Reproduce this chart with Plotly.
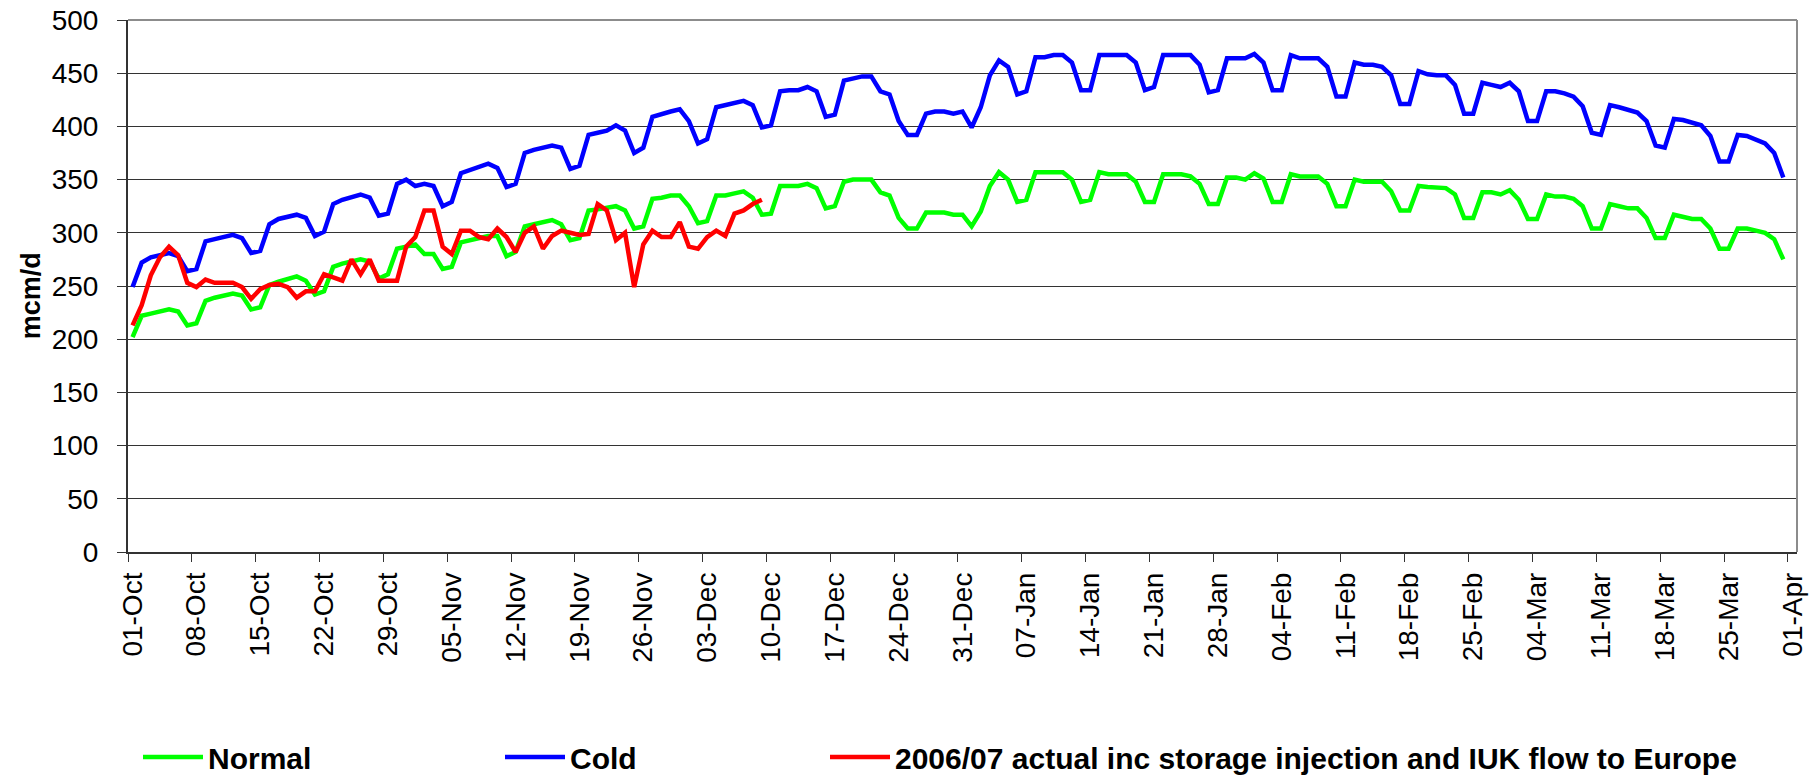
import pandas as pd
import plotly.graph_objects as go

# ---------------- DATA ----------------
start_date = "2006-10-01"

normal = [202, 222, 224, 226, 228, 226, 213, 215, 236, 239, 241, 243, 241, 228, 230,
          251, 254, 257, 259, 255, 242, 245, 268, 271, 273, 275, 273, 257, 261, 285,
          287, 289, 280, 280, 266, 268, 291, 293, 295, 297, 297, 278, 282, 306, 308,
          310, 312, 308, 293, 295, 321, 322, 323, 325, 321, 304, 306, 332, 333, 335,
          335, 325, 309, 311, 335, 335, 337, 339, 333, 317, 318, 344, 344, 344, 346,
          342, 323, 325, 348, 350, 350, 350, 338, 335, 314, 304, 304, 319, 319, 319,
          317, 317, 306, 320, 344, 357, 350, 329, 331, 357, 357, 357, 357, 350, 329,
          331, 357, 355, 355, 355, 348, 329, 329, 355, 355, 355, 353, 346, 327, 327,
          352, 352, 350, 356, 351, 329, 329, 355, 353, 353, 353, 346, 325, 325, 350,
          348, 348, 348, 339, 321, 321, 344, 343, 342, 342, 336, 314, 314, 338, 338,
          336, 340, 331, 313, 313, 336, 334, 334, 332, 325, 304, 304, 327, 325, 323,
          323, 314, 295, 295, 317, 315, 313, 313, 304, 285, 285, 304, 304, 302, 300,
          294, 275]

cold = [249, 272, 277, 279, 281, 278, 264, 266, 292, 294, 296, 298, 295, 281, 283,
        308, 313, 315, 317, 314, 297, 301, 327, 331, 334, 336, 333, 316, 318, 346,
        350, 344, 346, 344, 325, 329, 356, 359, 363, 365, 361, 343, 346, 375, 378,
        380, 382, 380, 360, 363, 392, 394, 396, 401, 396, 375, 380, 409, 412, 414,
        416, 405, 384, 388, 418, 420, 422, 424, 420, 399, 401, 433, 434, 434, 437,
        433, 409, 411, 443, 445, 447, 447, 433, 430, 405, 392, 392, 412, 414, 414,
        412, 414, 399, 418, 448, 462, 456, 430, 433, 465, 465, 467, 467, 460, 434,
        434, 467, 467, 467, 467, 460, 434, 437, 467, 467, 467, 467, 458, 432, 434,
        464, 464, 464, 468, 460, 434, 434, 467, 464, 464, 464, 456, 428, 428, 460,
        458, 458, 456, 448, 421, 421, 452, 449, 448, 448, 439, 412, 412, 441, 439,
        437, 441, 433, 405, 405, 433, 433, 431, 428, 419, 394, 392, 420, 418, 416,
        413, 405, 382, 380, 407, 406, 404, 401, 391, 367, 367, 392, 391, 387, 384,
        375, 352]

actual = [213, 232, 260, 277, 287, 279, 253, 249, 256, 253, 253, 253, 249, 238, 247,
          251, 252, 249, 239, 245, 245, 261, 258, 255, 275, 261, 275, 255, 255, 255,
          287, 296, 321, 321, 287, 280, 302, 302, 296, 294, 304, 296, 282, 300, 306,
          285, 297, 302, 300, 298, 299, 327, 321, 293, 300, 249, 289, 302, 296, 296,
          310, 287, 285, 296, 302, 297, 318, 321, 327, 331]

series_names = ["Normal", "Cold", "2006/07 actual inc storage injection and IUK flow to Europe"]
series_colors = ["#00FF00", "#0000FF", "#FF0000"]
y_ticks = [0, 50, 100, 150, 200, 250, 300, 350, 400, 450, 500]
y_title = "mcm/d"

# ---------------- FIGURE ----------------
dates = pd.date_range(start_date, periods=len(normal), freq="D")
FONT = "Liberation Sans, Arial, sans-serif"
WEEK_MS = 7 * 24 * 3600 * 1000
x_range = ["2006-09-30 12:00", "2007-04-01 12:00"]

fig = go.Figure()
all_series = [normal, cold, actual]
legends = ["legend", "legend2", "legend3"]
for vals, name, col, lg in zip(all_series, series_names, series_colors, legends):
    fig.add_trace(go.Scatter(
        x=dates[:len(vals)], y=vals, mode="lines", name=name,
        line=dict(color=col, width=4.5), legend=lg,
    ))

# invisible trace to bind the label axis
fig.add_trace(go.Scatter(x=[dates[0]], y=[None], xaxis="x2", yaxis="y",
                         showlegend=False, hoverinfo="skip"))

legend_common = dict(orientation="h", xref="container", yref="container",
                     y=0.0270, yanchor="middle", bgcolor="rgba(0,0,0,0)",
                     font=dict(family=FONT, size=30, color="black", weight="bold"),
                     itemwidth=60, borderwidth=0)

fig.update_layout(
    width=1818, height=778,
    margin=dict(l=128, r=21, t=20, b=226, pad=0, autoexpand=False),
    paper_bgcolor="white", plot_bgcolor="white",
    font=dict(family=FONT, color="black"),
    showlegend=True,
    legend=dict(x=138 / 1818, xanchor="left", **legend_common),
    legend2=dict(x=500 / 1818, xanchor="left", **legend_common),
    legend3=dict(x=825 / 1818, xanchor="left", **legend_common),
    xaxis=dict(
        type="date", range=x_range, automargin=False,
        tick0="2006-09-30 12:00", dtick=WEEK_MS,
        ticks="outside", ticklen=8, tickwidth=1, tickcolor="#333333",
        showticklabels=False, showgrid=False, zeroline=False,
        showline=True, linecolor="#333333", linewidth=2,
    ),
    xaxis2=dict(
        type="date", range=x_range, overlaying="x", anchor="y", side="bottom",
        automargin=False,
        tick0="2006-10-01", dtick=WEEK_MS, tickformat="%d-%b",
        ticks="", tickangle=-90, ticklabelstandoff=14,
        tickfont=dict(family=FONT, size=28, color="black"),
        showgrid=False, zeroline=False, showline=False,
    ),
    yaxis=dict(
        range=[0, 500], tickvals=y_ticks, automargin=False,
        ticks="outside", ticklen=9, tickwidth=1, tickcolor="#333333",
        ticklabelstandoff=13,
        tickfont=dict(family=FONT, size=28, color="black"),
        showgrid=True, gridcolor="#333333", gridwidth=1,
        zeroline=False, showline=True, linecolor="#333333", linewidth=2,
    ),
    annotations=[dict(
        text="<b>" + y_title + "</b>", xref="paper", yref="paper",
        x=-0.058, y=0.481, xanchor="center", yanchor="middle",
        textangle=-90, showarrow=False,
        font=dict(family=FONT, size=27, color="black"),
    )],
    shapes=[
        dict(type="line", xref="paper", yref="paper", x0=0, x1=1, y0=1, y1=1,
             line=dict(color="#8c8c8c", width=2), layer="above"),
        dict(type="line", xref="paper", yref="paper", x0=1, x1=1, y0=0, y1=1,
             line=dict(color="#8c8c8c", width=2), layer="above"),
    ],
)

fig.write_html("out.html", config={"displayModeBar": False},
               post_script="document.body.style.margin='0';")
